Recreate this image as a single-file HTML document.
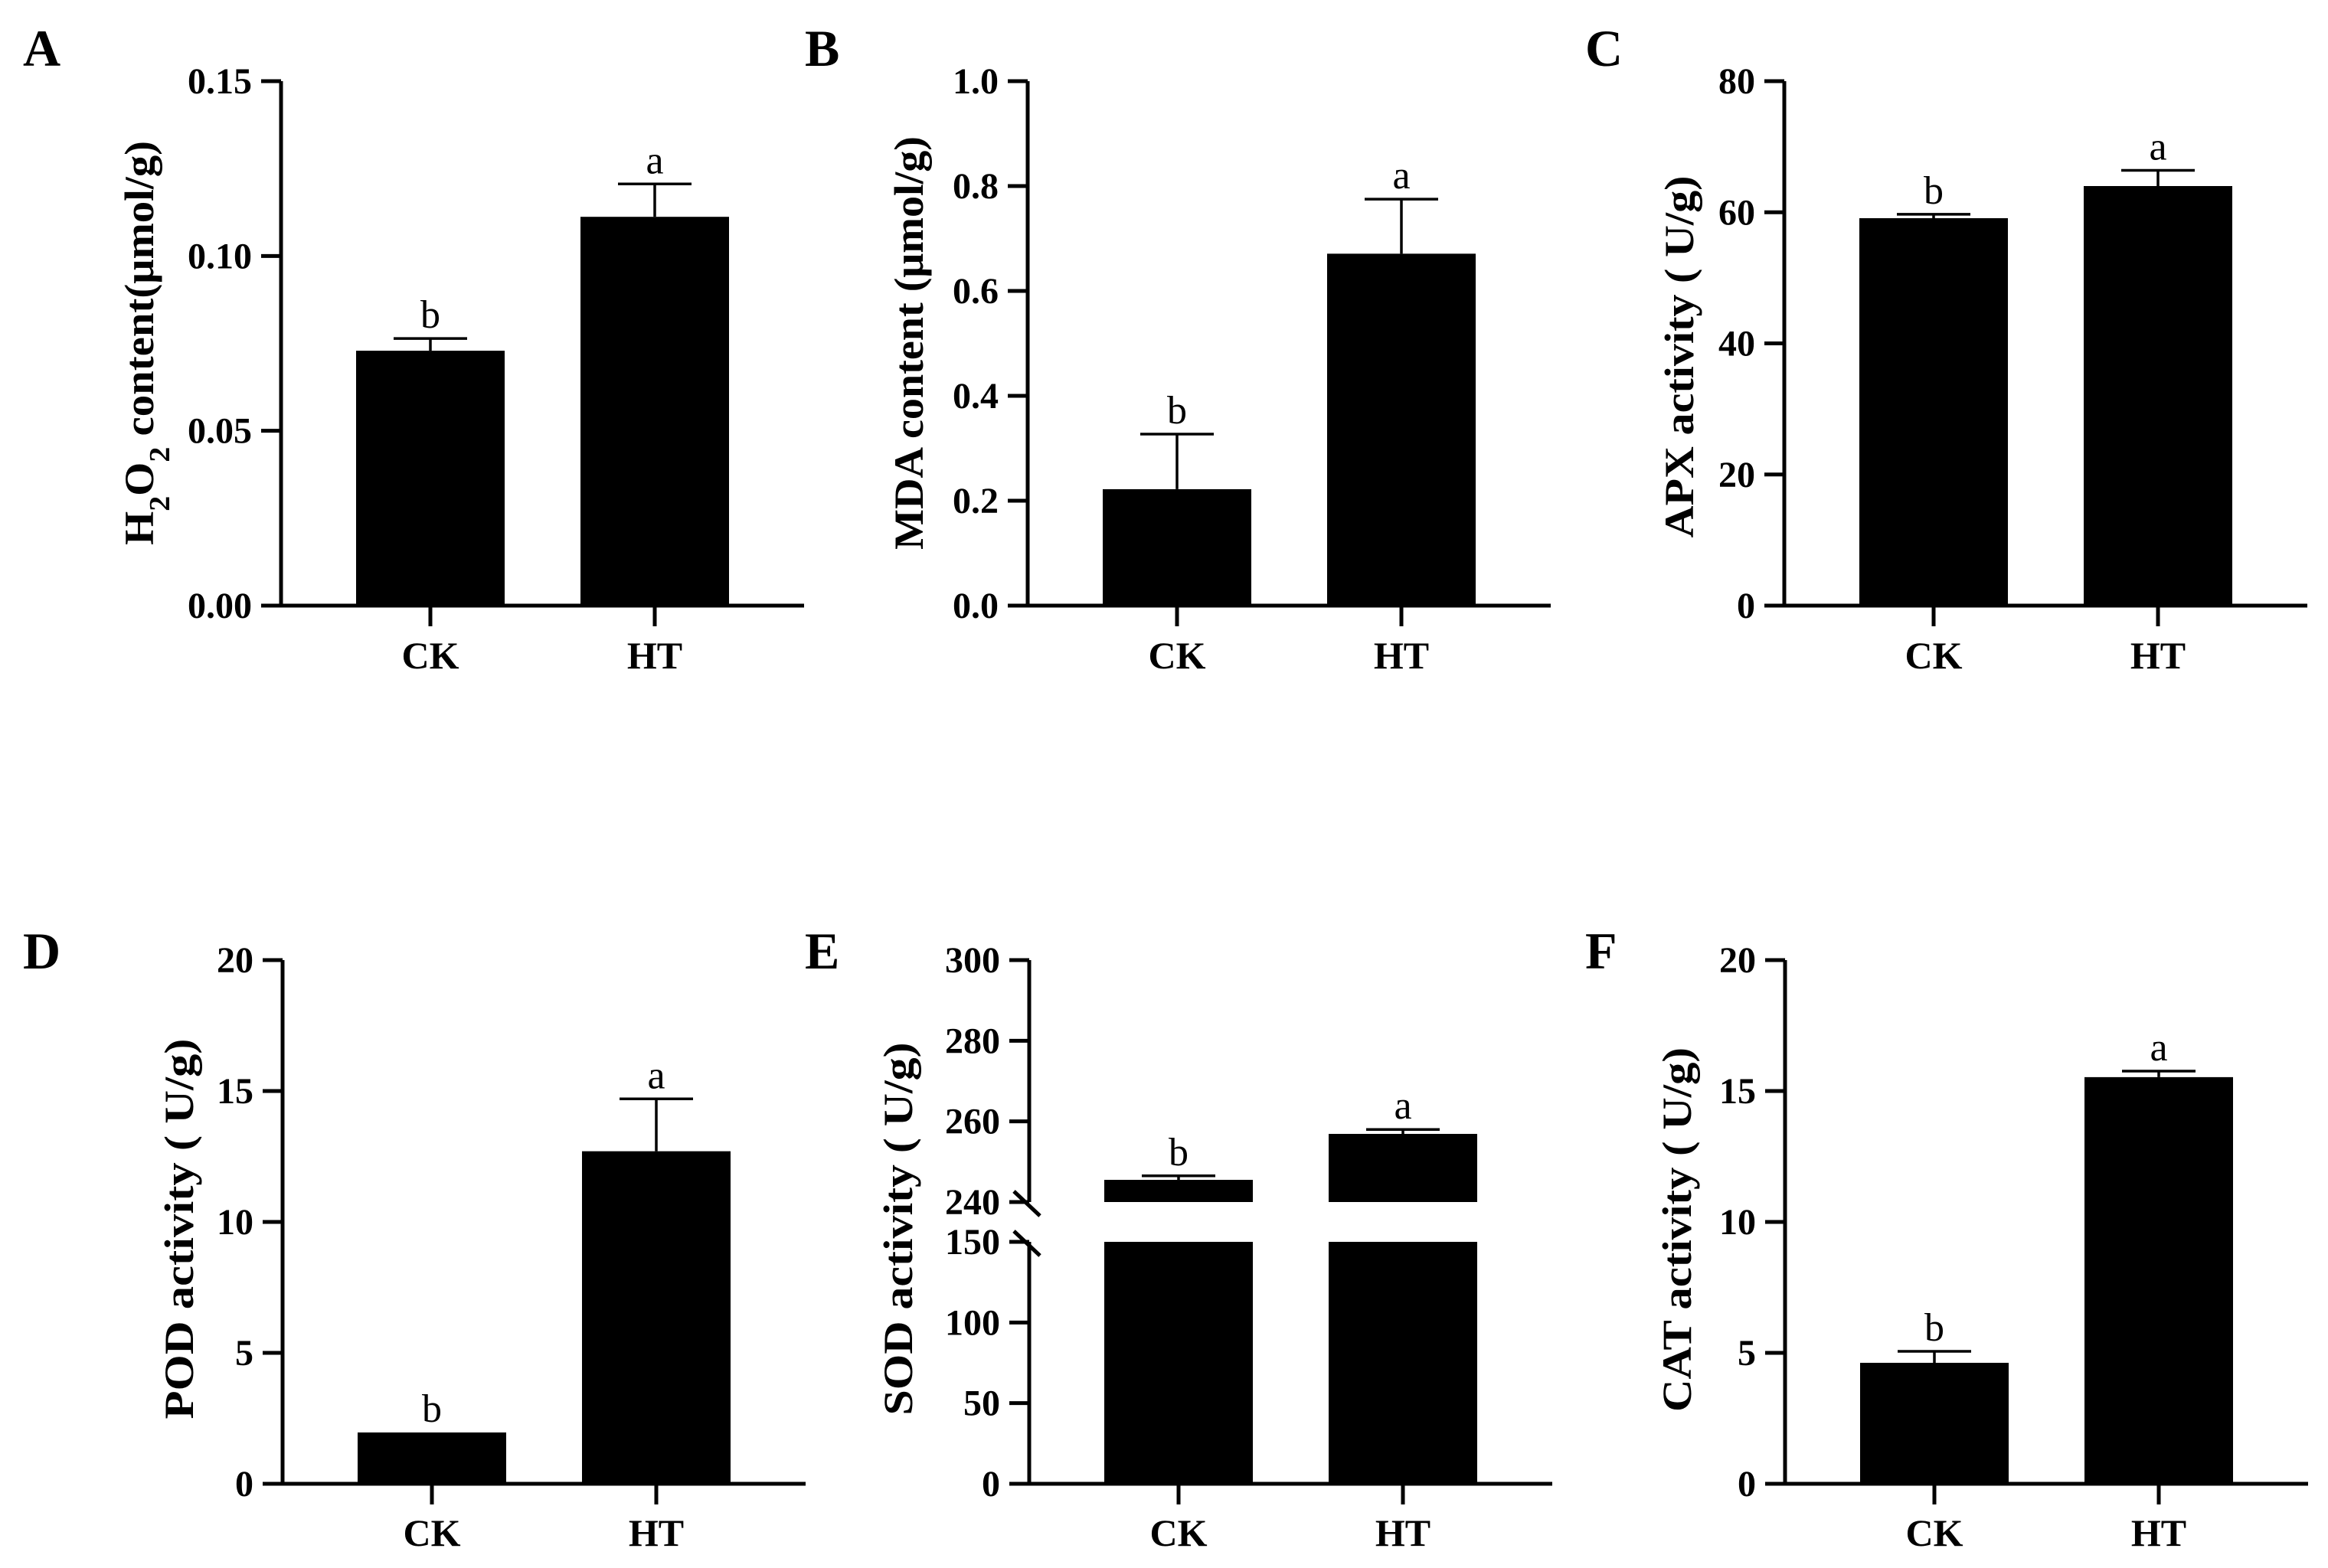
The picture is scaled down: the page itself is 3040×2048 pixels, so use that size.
<!DOCTYPE html>
<html><head><meta charset="utf-8"><style>
html,body{margin:0;padding:0;background:#fff;}
svg{display:block;font-family:"Liberation Serif",serif;}
</style></head><body>
<svg id="fig" width="3040" height="2048" viewBox="0 0 3040 2048" xmlns="http://www.w3.org/2000/svg"></svg>
<script>
const categories = ["CK","HT"];
const sigLetters = ["b","a"];
const h2o2Values = [0.0729, 0.1112];
const h2o2Errors = [0.0035, 0.0094];
const mdaValues = [0.222, 0.671];
const mdaErrors = [0.105, 0.104];
const apxValues = [59.1, 64.0];
const apxErrors = [0.6, 2.4];
const podValues = [1.96, 12.7];
const podErrors = [0, 2.0];
const sodValues = [245.5, 256.9];
const sodErrors = [1.0, 1.1];
const catValues = [4.62, 15.53];
const catErrors = [0.44, 0.23];
const h2o2Ticks = ["0.00","0.05","0.10","0.15"];
const mdaTicks = ["0.0","0.2","0.4","0.6","0.8","1.0"];
const apxTicks = ["0","20","40","60","80"];
const podTicks = ["0","5","10","15","20"];
const catTicks = ["0","5","10","15","20"];
const sodLowTicks = ["0","50","100","150"];
const sodHighTicks = ["240","260","280","300"];

const NS="http://www.w3.org/2000/svg";
const svg=document.getElementById('fig');
function mk(tag,attrs,parent){const e=document.createElementNS(NS,tag);for(const k in attrs)e.setAttribute(k,attrs[k]);(parent||svg).appendChild(e);return e;}

function panel(o){
  const g=mk('g',{});
  
  
  const ax=o.ax, y0=o.y0, y1=o.y1;
  const lab=mk('text',{x:o.lx,y:o.ly,'font-size':68,'font-weight':'bold'},g);
  lab.textContent=o.letter;
  
  
  const Y = o.scale;
  o.axisSegs.forEach(s=>{
    const l=mk('line',{x1:ax,x2:ax,y1:s[0],y2:s[1],stroke:'#000','stroke-width':5},g);
    
    
  });
  const xl=mk('line',{x1:ax-26,x2:ax+683,y1:y0,y2:y0,stroke:'#000','stroke-width':5},g);
  
  
  o.ticks.forEach(t=>{
    const y=Y(parseFloat(t));
    if(Math.abs(y-y0)>1){mk('line',{x1:ax-26,x2:ax,y1:y,y2:y,stroke:'#000','stroke-width':5},g);}
    const tx=mk('text',{x:ax-38,y:y+16,'font-size':48,'font-weight':'bold','text-anchor':'end'},g);
    tx.textContent=t;
    
    
  });
  const tt=mk('text',{x:0,y:0,'font-size':54,'font-weight':'bold','text-anchor':'middle',
    transform:`translate(${o.tx},${o.ty}) rotate(-90)`,textLength:o.tl,lengthAdjust:'spacingAndGlyphs'},g);
  tt.innerHTML=o.title;
  
  
  categories.forEach((c,i)=>{
    const bx=ax+98+i*293, bw=194, cx=bx+bw/2;
    const v=o.values[i], e=o.errors[i];
    if(o.broken){
      const r1=mk('rect',{x:bx,y:Y(150),width:bw,height:y0-Y(150),fill:'#000'},g);
      
      
      const r2=mk('rect',{x:bx,y:Y(v),width:bw,height:Y(240)-Y(v),fill:'#000'},g);
      
      
    } else {
      const r=mk('rect',{x:bx,y:Y(v),width:bw,height:y0-Y(v),fill:'#000'},g);
      
      
    }
    const ye=Y(v+e);
    if(e>0){
      const eb=mk('path',{d:`M${cx},${Y(v)}V${ye}M${cx-48},${ye}H${cx+48}`,stroke:'#000','stroke-width':3.5,fill:'none'},g);
      
      
    }
    const sl=mk('text',{x:cx,y:ye-14,'font-size':52,'text-anchor':'middle'},g);
    sl.textContent=sigLetters[i];
    
    
    mk('line',{x1:cx,x2:cx,y1:y0,y2:y0+27,stroke:'#000','stroke-width':5},g);
    const xt=mk('text',{x:cx,y:o.xly,'font-size':50,'font-weight':'bold','text-anchor':'middle'},g);
    xt.textContent=c;
    
    
  });
  if(o.broken){
    [Y(240),Y(150)].forEach(b=>{
      const s=mk('line',{x1:ax-20,y1:b-14,x2:ax+14,y2:b+18,stroke:'#000','stroke-width':5},g);
      
      
    });
  }
}
function lin(min,max,y0,y1){return v=>y0-(v-min)/(max-min)*(y0-y1);}
const R1=[791,106], R2=[1938,1254];
panel({letter:'A',lx:30,ly:86,ax:367,y0:R1[0],y1:R1[1],scale:lin(0,0.15,R1[0],R1[1]),axisSegs:[[R1[1],R1[0]]],
  ticks:h2o2Ticks,values:h2o2Values,errors:h2o2Errors,tx:200,ty:448,tl:528,xly:873,
  title:'H<tspan baseline-shift="sub" font-size="38">2</tspan>O<tspan baseline-shift="sub" font-size="38">2</tspan> content(μmol/g)'});
panel({letter:'B',lx:1051,ly:86,ax:1342,y0:R1[0],y1:R1[1],scale:lin(0,1,R1[0],R1[1]),axisSegs:[[R1[1],R1[0]]],
  ticks:mdaTicks,values:mdaValues,errors:mdaErrors,tx:1205,ty:448,tl:540,xly:873,title:'MDA content (μmol/g)'});
panel({letter:'C',lx:2070,ly:86,ax:2330,y0:R1[0],y1:R1[1],scale:lin(0,80,R1[0],R1[1]),axisSegs:[[R1[1],R1[0]]],
  ticks:apxTicks,values:apxValues,errors:apxErrors,tx:2211,ty:466,tl:473,xly:873,title:'APX activity ( U/g)'});
panel({letter:'D',lx:30,ly:1265,ax:369,y0:R2[0],y1:R2[1],scale:lin(0,20,R2[0],R2[1]),axisSegs:[[R2[1],R2[0]]],
  ticks:podTicks,values:podValues,errors:podErrors,tx:252,ty:1605,tl:497,xly:2019,title:'POD activity ( U/g)'});
function sodScale(v){return v>=240? 1570-(v-240)/60*316 : 1938-v/150*316;}
panel({letter:'E',lx:1051,ly:1265,ax:1344,y0:R2[0],y1:R2[1],scale:sodScale,axisSegs:[[1254,1570],[1622,1938]],broken:true,
  ticks:sodLowTicks.concat(sodHighTicks),values:sodValues,errors:sodErrors,tx:1191,ty:1605,tl:487,xly:2019,title:'SOD activity ( U/g)'});
panel({letter:'F',lx:2070,ly:1265,ax:2331,y0:R2[0],y1:R2[1],scale:lin(0,20,R2[0],R2[1]),axisSegs:[[R2[1],R2[0]]],
  ticks:catTicks,values:catValues,errors:catErrors,tx:2208,ty:1606,tl:476,xly:2019,title:'CAT activity ( U/g)'});
</script>
</body></html>
